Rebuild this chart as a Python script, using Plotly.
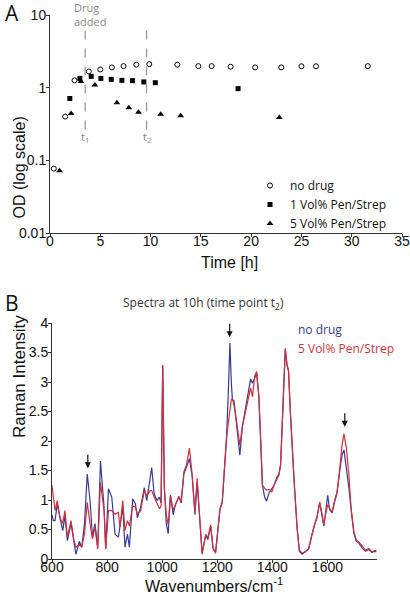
import plotly.graph_objects as go

# ---------- Panel A data ----------
t_nodrug = [0.38, 1.51, 2.44, 3.86, 5.0, 6.15, 7.31, 8.58, 9.87, 12.66, 14.75, 16.07, 17.96, 20.4, 23.0, 25.0, 26.45, 31.6]
od_nodrug = [0.077, 0.40, 1.26, 1.67, 1.78, 1.90, 1.98, 2.07, 2.11, 2.07, 1.98, 1.98, 1.94, 1.90, 1.90, 1.97, 1.97, 1.98]

t_1vol = [1.97, 2.97, 4.1, 5.06, 6.09, 7.15, 8.2, 9.33, 10.47, 18.7]
od_1vol = [0.71, 1.34, 1.43, 1.34, 1.30, 1.26, 1.25, 1.20, 1.17, 0.97]

t_5vol = [0.95, 2.1, 3.07, 4.46, 6.65, 7.84, 8.8, 11.0, 12.99, 22.8]
od_5vol = [0.072, 0.44, 1.22, 1.09, 0.62, 0.53, 0.46, 0.43, 0.41, 0.39]

t_events = [3.5, 9.6]
event_labels = ["t<sub>1</sub>", "t<sub>2</sub>"]
event_od_span = [0.266, 6.85]

a_xticks = [0, 5, 10, 15, 20, 25, 30, 35]
a_yticks = [10, 1, 0.1, 0.01]
a_yticklabels = ["10", "1", "0.1", "0.01"]

# ---------- Panel B data ----------
wavenumber = [600, 605, 611, 619, 629, 639, 647, 656, 669, 680, 687, 699, 708, 718, 728, 738, 747, 756, 766, 776,
              789, 795, 805, 817, 829, 841, 847, 857, 865, 874, 881, 893, 903, 910, 922, 935, 944, 956, 962, 971,
              981, 990, 996, 1002, 1008, 1015, 1022, 1030, 1040, 1048, 1061, 1069, 1079, 1088, 1099, 1109, 1119, 1127, 1136, 1145,
              1158, 1166, 1176, 1185, 1194, 1202, 1210, 1218, 1227, 1234, 1240, 1246, 1251, 1255, 1261, 1273, 1282, 1291, 1303, 1312,
              1321, 1328, 1336, 1343, 1351, 1358, 1364, 1372, 1379, 1388, 1398, 1406, 1418, 1424, 1430, 1439, 1447, 1453, 1459, 1465,
              1472, 1480, 1490, 1498, 1508, 1520, 1532, 1544, 1553, 1562, 1572, 1581, 1587, 1593, 1601, 1608, 1617, 1625, 1635, 1645,
              1653, 1660, 1669, 1678, 1686, 1696, 1705, 1714, 1726, 1738, 1750, 1762, 1770, 1778]
raman_nodrug = [0.75, 0.65, 0.65, 0.93, 0.70, 0.48, 0.73, 0.31, 0.60, 0.25, 0.08, 0.30, 0.20, 0.60, 1.44, 1.00, 0.37, 0.60, 0.20, 1.66,
                0.88, 0.17, 1.19, 1.05, 0.42, 0.37, 0.54, 0.88, 0.20, 0.42, 0.20, 1.02, 0.93, 0.70, 0.88, 1.21, 0.99, 1.38, 1.55, 1.10,
                0.99, 1.05, 0.95, 3.28, 1.20, 0.60, 0.43, 1.08, 0.75, 0.92, 1.06, 0.95, 1.45, 1.55, 1.70, 1.40, 0.75, 1.30, 0.63, 0.10,
                0.40, 0.33, 0.56, 0.17, 0.12, 0.46, 0.84, 0.95, 1.62, 2.10, 2.80, 3.66, 3.00, 2.70, 2.68, 2.20, 1.76, 2.24, 2.58, 2.82,
                3.05, 2.98, 3.09, 3.15, 2.75, 2.02, 1.25, 1.05, 0.98, 1.12, 1.20, 1.25, 1.40, 1.44, 1.60, 2.50, 3.55, 3.30, 3.18, 2.53,
                1.82, 1.25, 0.52, 0.13, 0.08, 0.12, 0.17, 0.42, 0.56, 0.72, 0.95, 0.73, 0.56, 0.78, 1.08, 0.84, 0.78, 0.95, 1.12, 1.50,
                1.76, 1.85, 1.54, 1.20, 0.84, 0.44, 0.30, 0.27, 0.19, 0.13, 0.16, 0.11, 0.13, 0.12]
raman_5vol = [1.25, 1.00, 0.82, 0.99, 0.70, 0.60, 0.82, 0.37, 0.65, 0.31, 0.20, 0.25, 0.20, 0.42, 0.96, 0.60, 0.34, 0.54, 0.17, 1.30,
              0.82, 0.17, 0.82, 0.82, 0.76, 0.79, 0.54, 0.99, 0.48, 0.65, 0.56, 0.90, 0.88, 0.76, 0.82, 1.16, 1.07, 1.16, 1.16, 1.05,
              0.93, 0.85, 0.90, 3.29, 1.20, 0.75, 0.58, 1.08, 0.83, 0.92, 1.06, 0.97, 1.48, 1.59, 1.88, 1.42, 0.80, 1.37, 0.63, 0.08,
              0.42, 0.36, 0.58, 0.18, 0.10, 0.48, 0.86, 0.97, 1.65, 2.05, 2.30, 2.50, 2.70, 2.72, 2.60, 2.24, 1.93, 2.24, 2.50, 2.75,
              2.90, 2.75, 3.10, 3.18, 2.75, 2.02, 1.25, 1.20, 1.17, 1.18, 1.14, 1.25, 1.37, 1.42, 1.60, 2.50, 3.57, 3.30, 3.18, 2.53,
              1.82, 1.25, 0.52, 0.15, 0.10, 0.12, 0.18, 0.41, 0.58, 0.69, 0.97, 0.75, 0.58, 0.75, 0.92, 0.86, 0.80, 0.97, 1.14, 1.54,
              1.93, 2.12, 1.88, 1.42, 0.86, 0.46, 0.32, 0.29, 0.21, 0.15, 0.18, 0.12, 0.14, 0.15]
arrow_wn = [730, 1245, 1663]
arrow_tip = [1.54, 3.76, 2.24]

b_xticks = [600, 800, 1000, 1200, 1400, 1600]
b_yticks = [0, 0.5, 1, 1.5, 2, 2.5, 3, 3.5, 4]

W, H = 410, 596
def px_x(p):
    return p / W
def px_y(p):
    return 1 - p / H

BLUE = "#363a96"
RED = "#d2313c"
TICKFONT = dict(family="Liberation Sans, Arial, sans-serif", size=14, color="#111")
LABFONT = "Open Sans, sans-serif"

fig = go.Figure()

fig.add_trace(go.Scatter(x=t_nodrug, y=od_nodrug, mode="markers", name="no drug",
                         marker=dict(symbol="circle-open", size=5, color="black", line=dict(width=1)),
                         xaxis="x", yaxis="y"))
fig.add_trace(go.Scatter(x=t_1vol, y=od_1vol, mode="markers", name="1 Vol% Pen/Strep",
                         marker=dict(symbol="square", size=5, color="black"),
                         xaxis="x", yaxis="y"))
fig.add_trace(go.Scatter(x=t_5vol, y=od_5vol, mode="markers", name="5 Vol% Pen/Strep",
                         marker=dict(symbol="triangle-up", size=6, color="black"),
                         xaxis="x", yaxis="y"))
for te in t_events:
    fig.add_trace(go.Scatter(x=[te, te], y=event_od_span, mode="lines", showlegend=False,
                             line=dict(color="#9a9a9a", width=1.3, dash="dash"),
                             xaxis="x", yaxis="y", hoverinfo="skip"))

fig.add_trace(go.Scatter(x=wavenumber, y=raman_nodrug, mode="lines", name="no drug ", showlegend=False,
                         line=dict(color=BLUE, width=1.2), xaxis="x2", yaxis="y2"))
fig.add_trace(go.Scatter(x=wavenumber, y=raman_5vol, mode="lines", name="5 Vol% Pen/Strep ", showlegend=False,
                         line=dict(color=RED, width=1.2), xaxis="x2", yaxis="y2"))

axis_common = dict(showgrid=False, zeroline=False, showline=True, linecolor="#333", linewidth=1,
                   ticks="outside", ticklen=3, tickcolor="#333", tickfont=TICKFONT, automargin=False)

fig.update_layout(
    width=W, height=H,
    margin=dict(l=0, r=0, t=0, b=0, pad=0, autoexpand=False),
    paper_bgcolor="white", plot_bgcolor="white",
    xaxis=dict(domain=[px_x(50), px_x(402)], range=[0, 35], tickvals=a_xticks, anchor="y",
               ticklabelstandoff=-8, **axis_common),
    yaxis=dict(domain=[px_y(233), px_y(15)], type="log", range=[-2, 1], tickvals=a_yticks,
               ticktext=a_yticklabels, anchor="x", ticklabelstandoff=-3, **axis_common),
    xaxis2=dict(domain=[px_x(52), px_x(377)], range=[600, 1780], tickvals=b_xticks, anchor="y2",
                ticklabelstandoff=-8, **axis_common),
    yaxis2=dict(domain=[px_y(559), px_y(323)], range=[0, 4], tickvals=b_yticks, anchor="x2",
                ticklabelstandoff=-3, **axis_common),
    showlegend=True,
    legend=dict(x=px_x(250), y=px_y(171), xanchor="left", yanchor="top",
                font=dict(family=LABFONT, size=12, color="#111"), bgcolor="rgba(0,0,0,0)",
                tracegroupgap=0, itemwidth=30),
)

ann = []
ann.append(dict(text="A", x=px_x(3), y=px_y(13), xref="paper", yref="paper", xanchor="left", yanchor="middle",
                showarrow=False, font=dict(family=LABFONT, size=21, color="#111")))
ann.append(dict(text="B", x=px_x(3), y=px_y(303), xref="paper", yref="paper", xanchor="left", yanchor="middle",
                showarrow=False, font=dict(family=LABFONT, size=21, color="#111")))
ann.append(dict(text="Drug<br>added", x=px_x(72), y=px_y(14), xref="paper", yref="paper", xanchor="left",
                yanchor="middle", align="left", showarrow=False,
                font=dict(family=LABFONT, size=11, color="#888")))
for te, lab in zip(t_events, event_labels):
    ann.append(dict(text=lab, x=te, y=px_y(137), xref="x", yref="paper", xanchor="center", yanchor="middle",
                    showarrow=False, font=dict(family=LABFONT, size=11, color="#888")))
ann.append(dict(text="Time [h]", x=px_x(229), y=px_y(262), xref="paper", yref="paper", showarrow=False,
                font=dict(family="Liberation Sans, Arial, sans-serif", size=16, color="#111")))
ann.append(dict(text="OD (log scale)", x=px_x(8), y=px_y(115), xref="paper", yref="paper", showarrow=False,
                textangle=-90, font=dict(family="Liberation Sans, Arial, sans-serif", size=16, color="#111")))
ann.append(dict(text="Spectra at 10h (time point t<sub>2</sub>)", x=px_x(203), y=px_y(303), xref="paper", yref="paper",
                showarrow=False, font=dict(family=LABFONT, size=12, color="#333")))
ann.append(dict(text="no drug", x=px_x(296), y=px_y(329), xref="paper", yref="paper", xanchor="left",
                showarrow=False, font=dict(family=LABFONT, size=12, color=BLUE)))
ann.append(dict(text="5 Vol% Pen/Strep", x=px_x(296), y=px_y(348), xref="paper", yref="paper", xanchor="left",
                showarrow=False, font=dict(family=LABFONT, size=12, color=RED)))
ann.append(dict(text="Wavenumbers/cm<sup>-1</sup>", x=px_x(214), y=px_y(597), xref="paper", yref="paper",
                xanchor="center", yanchor="bottom", showarrow=False,
                font=dict(family="Liberation Sans, Arial, sans-serif", size=16, color="#111")))
ann.append(dict(text="Raman Intensity", x=px_x(8), y=px_y(440), xref="paper", yref="paper", showarrow=False,
                textangle=-90, font=dict(family="Liberation Sans, Arial, sans-serif", size=17, color="#111")))
for wn, tip in zip(arrow_wn, arrow_tip):
    ann.append(dict(text="", x=wn, y=tip, xref="x2", yref="y2", ax=0, ay=-15, showarrow=True,
                    arrowhead=2, arrowsize=1, arrowwidth=1.2, arrowcolor="#111"))
fig.update_layout(annotations=ann)

fig.write_html("out.html", config={"responsive": False, "displayModeBar": False},
               post_script="document.body.style.margin='0';document.body.style.overflow='hidden';")
